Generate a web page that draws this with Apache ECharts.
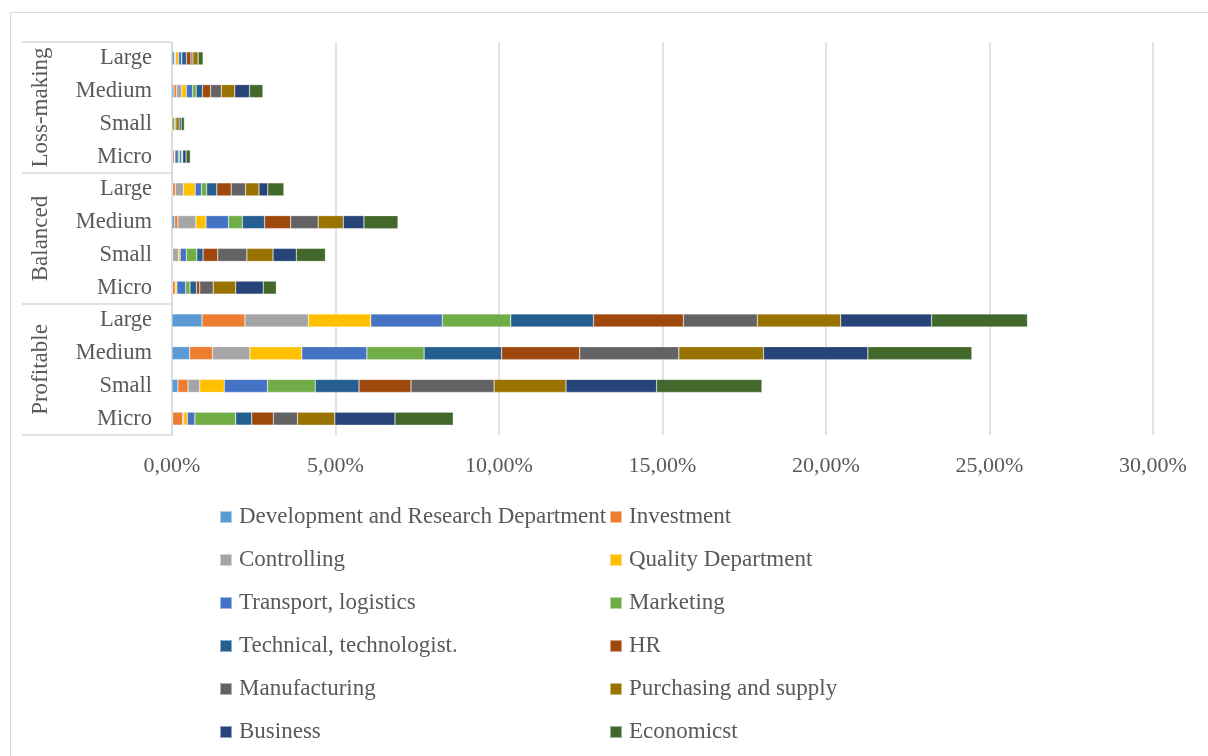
<!DOCTYPE html>
<html>
<head>
<meta charset="utf-8">
<script src="https://cdn.jsdelivr.net/npm/echarts@6/dist/echarts.min.js"></script>
<style>
  html, body { margin: 0; padding: 0; background: #fff; }
  #chart { width: 1208px; height: 756px; }
</style>
</head>
<body>
<div id="chart"></div>
<script>
// categories, top to bottom
var sizes = ['Large', 'Medium', 'Small', 'Micro',
             'Large', 'Medium', 'Small', 'Micro',
             'Large', 'Medium', 'Small', 'Micro'];
var groups = ['Loss-making', 'Balanced', 'Profitable'];
var xTicks = [0, 5, 10, 15, 20, 25, 30];

// share of companies, % (order follows sizes)
var devResearch = [0.08, 0.06, 0.00, 0.02, 0.02, 0.08, 0.02, 0.02, 0.92, 0.54, 0.18, 0.02];
var investment  = [0.00, 0.08, 0.00, 0.05, 0.08, 0.10, 0.00, 0.08, 1.31, 0.70, 0.31, 0.31];
var controlling = [0.02, 0.16, 0.00, 0.02, 0.25, 0.55, 0.18, 0.00, 1.94, 1.14, 0.36, 0.03];
var quality     = [0.10, 0.14, 0.00, 0.00, 0.36, 0.31, 0.05, 0.05, 1.91, 1.59, 0.75, 0.11];
var transport   = [0.10, 0.19, 0.00, 0.10, 0.19, 0.69, 0.19, 0.27, 2.19, 1.99, 1.32, 0.23];
var marketing   = [0.00, 0.11, 0.08, 0.05, 0.16, 0.42, 0.32, 0.13, 2.09, 1.75, 1.46, 1.25];
var technical   = [0.14, 0.19, 0.00, 0.06, 0.31, 0.68, 0.19, 0.20, 2.53, 2.37, 1.34, 0.49];
var hr          = [0.14, 0.25, 0.04, 0.00, 0.44, 0.80, 0.45, 0.10, 2.75, 2.39, 1.59, 0.66];
var manufact    = [0.06, 0.33, 0.00, 0.03, 0.44, 0.84, 0.89, 0.41, 2.26, 3.03, 2.54, 0.74];
var purchasing  = [0.16, 0.41, 0.10, 0.00, 0.41, 0.77, 0.80, 0.69, 2.55, 2.59, 2.20, 1.14];
var business    = [0.00, 0.45, 0.06, 0.10, 0.27, 0.63, 0.71, 0.84, 2.78, 3.19, 2.77, 1.84];
var economist   = [0.15, 0.41, 0.10, 0.13, 0.49, 1.04, 0.89, 0.40, 2.93, 3.18, 3.22, 1.78];

var names = ['Development and Research Department', 'Investment', 'Controlling', 'Quality Department',
             'Transport, logistics', 'Marketing', 'Technical, technologist.', 'HR',
             'Manufacturing', 'Purchasing and supply', 'Business', 'Economicst'];
var values = [devResearch, investment, controlling, quality, transport, marketing,
              technical, hr, manufact, purchasing, business, economist];
var colors = ['#5B9BD5', '#ED7D31', '#A5A5A5', '#FFC000', '#4472C4', '#70AD47',
              '#255E91', '#9E480E', '#636363', '#997300', '#264478', '#43682B'];

var font = '"Liberation Serif", "DejaVu Serif", serif';
var txt = '#595959';

var chart = echarts.init(document.getElementById('chart'));

var series = names.map(function (n, i) {
  return {
    name: n,
    type: 'bar',
    stack: 'total',
    barWidth: 13,
    data: values[i],
    itemStyle: { color: colors[i], borderColor: 'rgba(255,255,255,0.5)', borderWidth: 0.5 }
  };
});

var legendBase = {
  orient: 'vertical',
  itemWidth: 12,
  itemHeight: 12,
  itemGap: 17,
  icon: 'rect',
  selectedMode: false,
  textStyle: { fontFamily: font, fontSize: 23, color: txt, lineHeight: 26, padding: [0, 0, 0, 2] }
};

var option = {
  animation: false,
  color: colors,
  graphic: [{
    type: 'rect', left: 8, top: 10, silent: true,
    shape: { width: 1300, height: 800 },
    style: { fill: 'none', stroke: '#d9d9d9', lineWidth: 1 }
  }],
  grid: { left: 172, right: 55, top: 42, bottom: 321 },
  legend: [
    Object.assign({}, legendBase, { left: 214, top: 499, data: names.filter(function (n, i) { return i % 2 === 0; }) }),
    Object.assign({}, legendBase, { left: 604, top: 499, data: names.filter(function (n, i) { return i % 2 === 1; }) })
  ],
  xAxis: {
    type: 'value',
    min: xTicks[0],
    max: xTicks[xTicks.length - 1],
    interval: xTicks[1] - xTicks[0],
    axisLine: { show: false },
    axisTick: { show: false },
    splitLine: { lineStyle: { color: '#d9d9d9', width: 1.5 } },
    axisLabel: {
      margin: 20,
      fontFamily: font, fontSize: 22, color: txt,
      formatter: function (v) { return v.toFixed(2).replace('.', ',') + '%'; }
    }
  },
  yAxis: [{
    type: 'category',
    data: sizes,
    inverse: true,
    position: 'left',
    axisLine: { lineStyle: { color: '#d9d9d9', width: 1.5 } },
    axisTick: { show: false },
    axisLabel: { interval: 0, margin: 20, fontFamily: font, fontSize: 22.5, color: txt }
  }, {
    type: 'category',
    data: groups,
    inverse: true,
    position: 'left',
    axisLine: { show: false },
    axisTick: { show: true, interval: 0, length: 150, lineStyle: { color: '#d9d9d9', width: 1.5 } },
    axisLabel: { interval: 0, rotate: 90, margin: 120, fontFamily: font, fontSize: 23, color: txt }
  }],
  series: series
};

chart.setOption(option);
</script>
</body>
</html>
